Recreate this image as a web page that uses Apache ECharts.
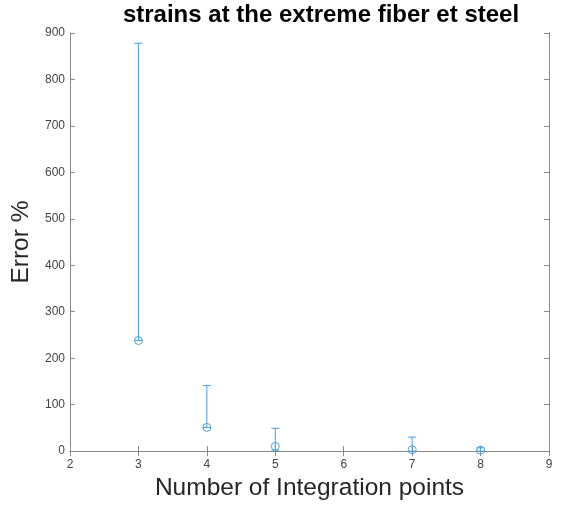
<!DOCTYPE html>
<html><head><meta charset="utf-8">
<script src="https://cdn.jsdelivr.net/npm/echarts@6/dist/echarts.min.js"></script>
<style>html,body{margin:0;padding:0;background:#fff}#c{width:570px;height:506px}</style>
</head><body><div id="c"></div>
<script>
const xs = [3, 4, 5, 7, 8];
const ys = [238, 51, 10, 3, 2];
const upper = [878, 141, 49, 30, 7];
const lower = [238, 51, 2, 0, 0];
const xTicks = [2, 3, 4, 5, 6, 7, 8, 9];
const yTicks = [0, 100, 200, 300, 400, 500, 600, 700, 800, 900];

const color = '#4a9fdc';
const axisColor = '#8a8a8a';
const font = 'Liberation Sans, Arial, sans-serif';

const chart = echarts.init(document.getElementById('c'));
const errData = xs.map((x, i) => [x, lower[i], upper[i], ys[i]]);

const baseX = {type: 'value', min: xTicks[0], max: xTicks[xTicks.length - 1], interval: 1,
  axisLine: {show: true, lineStyle: {color: axisColor}},
  axisTick: {show: true, inside: true, length: 5, lineStyle: {color: axisColor}},
  splitLine: {show: false}};
const baseY = {type: 'value', min: yTicks[0], max: yTicks[yTicks.length - 1], interval: 100,
  axisLine: {show: true, lineStyle: {color: axisColor}},
  axisTick: {show: true, inside: true, length: 5, lineStyle: {color: axisColor}},
  splitLine: {show: false}};

chart.setOption({
  animation: false,
  title: {text: 'strains at the extreme fiber et steel', left: 316, top: -2, textAlign: 'center',
    textStyle: {fontFamily: font, fontSize: 24, fontWeight: 'bold', color: '#000'}},
  grid: {left: 70, right: 21, top: 33, bottom: 51.5},
  xAxis: [
    Object.assign({}, baseX, {position: 'bottom', name: 'Number of Integration points', nameLocation: 'middle', nameGap: 24.5,
      nameTextStyle: {fontFamily: font, fontSize: 24.5, color: '#262626'},
      axisLabel: {fontFamily: font, fontSize: 12, color: '#444', margin: 8}}),
    Object.assign({}, baseX, {position: 'top', axisLabel: {show: false}})
  ],
  yAxis: [
    Object.assign({}, baseY, {position: 'left', name: 'Error %', nameLocation: 'middle', nameGap: 31.5,
      nameTextStyle: {fontFamily: font, fontSize: 24.5, color: '#262626'},
      axisLabel: {fontFamily: font, fontSize: 12, color: '#444', margin: 5}}),
    Object.assign({}, baseY, {position: 'right', axisLabel: {show: false}})
  ],
  series: [{
    type: 'custom',
    data: errData,
    encode: {x: 0, y: [1, 2]},
    renderItem: function (params, api) {
      const x = api.value(0);
      const lo = api.coord([x, api.value(1)]);
      const hi = api.coord([x, api.value(2)]);
      const c = api.coord([x, api.value(3)]);
      const w = 4;
      const st = {stroke: color, lineWidth: 1, fill: null};
      return {type: 'group', children: [
        {type: 'line', shape: {x1: lo[0], y1: lo[1], x2: hi[0], y2: hi[1]}, style: st},
        {type: 'line', shape: {x1: hi[0] - w, y1: hi[1], x2: hi[0] + w, y2: hi[1]}, style: st},
        {type: 'line', shape: {x1: lo[0] - w, y1: lo[1], x2: lo[0] + w, y2: lo[1]}, style: st},
        {type: 'circle', shape: {cx: c[0], cy: c[1], r: 4}, style: st}
      ]};
    },
    clip: false
  }]
});
</script></body></html>
